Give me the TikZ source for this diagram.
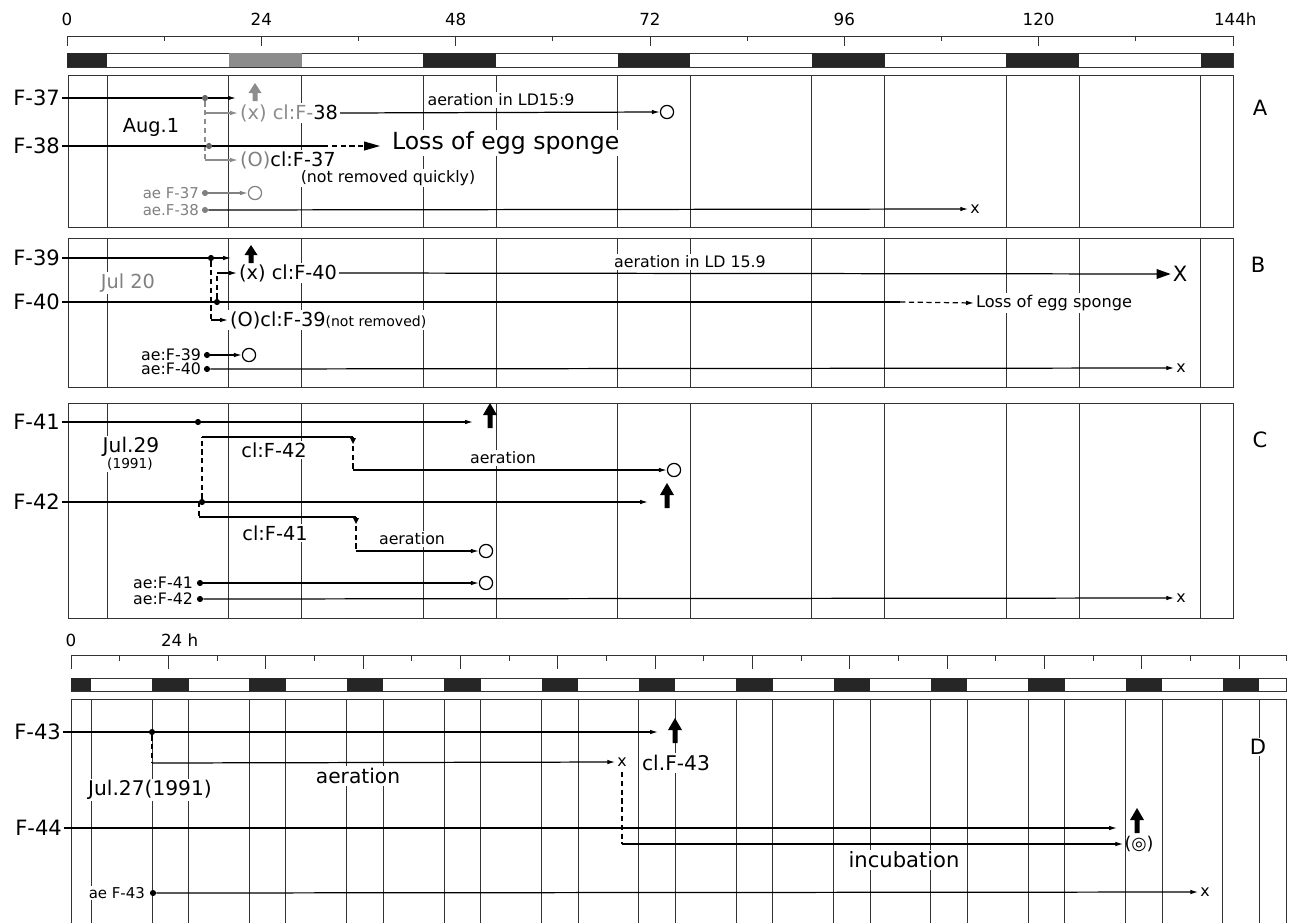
\documentclass[tikz,border=0pt]{standalone}
\usepackage{fontspec}
\setmainfont{DejaVu Sans}
\newfontfamily\symf{DejaVu Sans}
\usetikzlibrary{arrows.meta}
\newcommand\myfs[1]{\fontsize{#1pt}{#1pt}\selectfont}
\tikzset{
  bigupL/.pic={\fill (-2.5,0) -- (-2.5,-13) -- (-7,-13) -- (0,-25) -- (7,-13) -- (2.5,-13) -- (2.5,0) -- cycle;},
  bigupS/.pic={\fill (-2.5,0) -- (-2.5,-8) -- (-6.5,-8) -- (0,-18) -- (6.5,-8) -- (2.5,-8) -- (2.5,0) -- cycle;},
  grid/.style={line width=0.55pt,black!80},
  ln/.style={line width=0.7pt},
  sarr/.style={ln,-{Latex[length=4.5pt,width=2.6pt]}},
  dsh/.style={line width=0.7pt,dash pattern=on 3pt off 2pt},
  lbl/.style={anchor=east,inner sep=1pt,font=\myfs{12}},
  tx/.style={inner sep=1pt,fill=white},
  ocirc/.style={circle,draw,line width=0.7pt,minimum size=7.5pt,inner sep=0pt,fill=white},
  dotp/.style={circle,fill,inner sep=0pt,minimum size=3.5pt},
  axl/.style={font=\myfs{9.5},inner sep=1pt},
  pan/.style={font=\myfs{12},inner sep=1pt,fill=white}
}
\begin{document}
\begin{tikzpicture}[x=0.02cm,y=-0.02cm]
\useasboundingbox (0,0) rectangle (1293,923);
% ===== top axis (A-C) =====
\coordinate (ax0) at (67,36); \coordinate (ax1) at (1233,36);
\draw[grid] (ax0) -- (ax1);
\foreach \h in {0,24,...,144} \draw[grid] ({67+8.097*\h},36) -- ++(0,10);
\foreach \h in {12,36,...,132} \draw[grid] ({67+8.097*\h},36) -- ++(0,5);
\foreach \h in {0,24,48,72,96,120} \node[axl] at ({67+8.097*\h},19) {\h};
\node[axl,anchor=west] at (1212,19) {144h};
\draw[grid] (67,53) rectangle (1233,67);
\foreach \a/\b in {0/5,44/53,68/77,92/101,116/125,140/144}
  \fill[black!85] ({67+8.097*\a},53) rectangle ({67+8.097*\b},67);
\fill[black!45] ({67+8.097*20},53) rectangle ({67+8.097*29},67);
% panel boxes and grid
\draw[grid] (68,75) rectangle (1233,227);
\draw[grid] (68,238) rectangle (1233,387);
\draw[grid] (68,403) rectangle (1233,618);
\foreach \h in {5,20,29,44,53,68,77,92,101,116,125,140} {
  \draw[grid] ({67+8.097*\h},75) -- (67+8.097*\h,227);
  \draw[grid] ({67+8.097*\h},238) -- ({67+8.097*\h},387);
  \draw[grid] ({67+8.097*\h},403) -- ({67+8.097*\h},618);
}
% ===== axis D =====
\draw[grid] (71,655) -- (1286,655);
\foreach \h in {0,24,...,288} \draw[grid] ({71+4.056*\h},655) -- ++(0,14);
\foreach \h in {12,36,...,276} \draw[grid] ({71+4.056*\h},655) -- ++(0,6);
\draw[grid] (1286,655) -- ++(0,6);
\node[axl] at (71,640) {0};
\node[axl,anchor=west] at (159,640) {24 h};
\draw[grid] (71,678) rectangle (1286,691);
\fill[black!85] (71,678) rectangle ({71+4.056*5},691);
\foreach \k in {0,...,11}
  \fill[black!85] ({71+4.056*(20+24*\k)},678) rectangle ({71+4.056*(29+24*\k)},691);
\draw[grid] (71,923) -- (71,699) -- (1286,699) -- (1286,923);
\draw[grid] ({71+4.056*5},699) -- ({71+4.056*5},923);
\foreach \k in {0,...,11} {
  \draw[grid] ({71+4.056*(20+24*\k)},699) -- ({71+4.056*(20+24*\k)},923);
  \draw[grid] ({71+4.056*(29+24*\k)},699) -- ({71+4.056*(29+24*\k)},923);
}
% ================= PANEL A =================
\node[lbl] (F37) at (62,98) {F-37};
\node[lbl] (F38) at (62,146) {F-38};
\node[pan] (pA) at (1260,108) {A};
\node[tx,font=\myfs{11}] (aug) at (151,127) {Aug.1};
\node[tx,font=\myfs{9}] (aerA) at (501,100) {aeration in LD15:9};
\node[tx,font=\myfs{11},anchor=west] (x38) at (238,113) {{\color{black!45}(x) cl:F-}38};
\node[tx,font=\myfs{13.4},anchor=west] (lossA) at (390,143) {Loss of egg sponge};
\node[tx,font=\myfs{11},anchor=west] (o37) at (238,160) {{\color{black!50}(O)}cl:F-37};
\node[tx,font=\myfs{9}] (nrq) at (388,178) {(not removed quickly)};
\node[ocirc] (oA1) at (667,112) {};
\node[tx,font=\myfs{8.5},anchor=east,text=black!50] (ae37) at (201,193) {ae F-37};
\node[ocirc,draw=black!50] (oA2) at (255,193) {};
\node[tx,font=\myfs{8.5},anchor=east,text=black!50] (ae38) at (201,210) {ae.F-38};
\node[tx,font=\myfs{9}] (xA) at (975,209) {x};
\coordinate (e37) at (236,98);
\draw[sarr] (F37.east) -- (e37);
\node[dotp,black!60] (d37) at (205,98) {};
\pic[black!45] at (255,101) {bigupS};
\coordinate (bA1) at (205,113); \coordinate (bA2) at (205,160);
\draw[dsh,black!45] (d37) -- (bA2);
\draw[sarr,black!45] (bA1) -- (x38.west);
\draw[sarr,black!45] (bA2) -- (o37.west);
\draw[sarr] (x38.east) -- (oA1.west);
\coordinate (sA) at (323,146); \coordinate (lA) at (380,146);
\draw[ln] (F38.east) -- (sA);
\draw[dsh,-{Triangle[length=9pt,width=5pt]}] (sA) -- (lA);
\node[dotp,black!60] (d38) at (209,146) {};
\node[dotp,black!50] (dae37) at (205,193) {};
\node[dotp,black!50] (dae38) at (205,210) {};
\draw[sarr,black!50] (dae37) -- (oA2.west);
\draw[sarr] (dae38) -- (xA.west);
% ================= PANEL B =================
\node[lbl] (F39) at (62,258) {F-39};
\node[lbl] (F40) at (62,302) {F-40};
\node[pan] (pB) at (1258,265) {B};
\node[tx,font=\myfs{11},text=black!50] (jul20) at (128,283) {Jul 20};
\node[tx,font=\myfs{9}] (aerB) at (690,262) {aeration in LD 15.9};
\node[tx,font=\myfs{11},anchor=west] (x40) at (237,273) {(x) cl:F-40};
\node[inner sep=1pt,font=\myfs{12}] (XB) at (1180,274) {X};
\node[tx,font=\myfs{9.2},anchor=west] (lossB) at (974,303) {Loss of egg sponge};
\node[tx,font=\myfs{11},anchor=west] (o39) at (228,320) {(O)cl:F-39{\myfs{8}(not removed)}};
\node[tx,font=\myfs{9},anchor=east] (ae39) at (203,355) {ae:F-39};
\node[ocirc] (oB) at (249,355) {};
\node[tx,font=\myfs{9},anchor=east] (ae40) at (203,369) {ae:F-40};
\node[inner sep=1pt,font=\myfs{9}] (xB) at (1181,368) {x};
\node[dotp] (d39) at (211,258) {};
\node[dotp] (d40) at (217,302) {};
\coordinate (e39) at (231,258);
\draw[sarr] (F39.east) -- (e39);
\pic at (251,263) {bigupS};
\coordinate (bB1) at (217,273); \coordinate (bB2) at (211,320);
\draw[dsh] (d40) -- (bB1);
\draw[sarr] (bB1) -- (x40.west);
\draw[dsh] (d39) -- (bB2);
\draw[sarr] (bB2) -- (o39.west);
\draw[ln,-{Triangle[length=8pt,width=5.5pt]}] (x40.east) -- (XB.west);
\coordinate (sB) at (900,302);
\draw[ln] (F40.east) -- (sB);
\draw[dsh,-{Latex[length=4.5pt,width=2.6pt]}] (sB) -- (lossB.west);
\node[dotp] (dae39) at (207,355) {};
\node[dotp] (dae40) at (207,369) {};
\draw[sarr] (dae39) -- (oB.west);
\draw[sarr] (dae40) -- (xB.west);
% ================= PANEL C =================
\node[lbl] (F41) at (62,422) {F-41};
\node[lbl] (F42) at (62,502) {F-42};
\node[pan] (pC) at (1260,440) {C};
\node[tx,font=\myfs{11.5}] (jul29) at (131,447) {Jul.29};
\node[tx,font=\myfs{7.8}] (y91) at (130,464) {(1991)};
\node[tx,font=\myfs{11}] (cl42) at (274,450) {cl:F-42};
\node[tx,font=\myfs{9}] (aerC1) at (503,458) {aeration};
\node[ocirc] (oC1) at (674,470) {};
\node[tx,font=\myfs{11}] (cl41) at (275,533) {cl:F-41};
\node[tx,font=\myfs{9}] (aerC2) at (412,539) {aeration};
\node[ocirc] (oC2) at (486,551) {};
\node[tx,font=\myfs{9},anchor=east] (ae41) at (195,583) {ae:F-41};
\node[ocirc] (oC3) at (486,583) {};
\node[tx,font=\myfs{9},anchor=east] (ae42) at (195,599) {ae:F-42};
\node[inner sep=1pt,font=\myfs{9}] (xC) at (1181,598) {x};
\node[dotp] (d41) at (198,422) {};
\node[dotp] (d42) at (202,502) {};
\coordinate (e41) at (473,422);
\draw[sarr] (F41.east) -- (e41);
\pic at (490,428) {bigupL};
\coordinate (e42) at (648,502);
\draw[sarr] (F42.east) -- (e42);
\pic at (667,508) {bigupL};
% upper bracket
\coordinate (uC1) at (202,437); \coordinate (uC2) at (353,437); \coordinate (uC3) at (353,470);
\draw[dsh] (d42) -- (uC1);
\draw[ln] (uC1) -- (uC2);
\fill (350,438) -- (356,438) -- (353,444) -- cycle;
\draw[dsh] (uC2) -- (uC3);
\draw[sarr] (uC3) -- (oC1.west);
% lower bracket
\coordinate (lC1) at (199,517); \coordinate (lC2) at (356,517); \coordinate (lC3) at (356,551);
\draw[dsh] (199,502) -- (lC1);
\draw[ln] (lC1) -- (lC2);
\fill (353,518) -- (359,518) -- (356,524) -- cycle;
\draw[dsh] (lC2) -- (lC3);
\draw[sarr] (lC3) -- (oC2.west);
\node[dotp] (dae41) at (200,583) {};
\node[dotp] (dae42) at (200,599) {};
\draw[sarr] (dae41) -- (oC3.west);
\draw[sarr] (dae42) -- (xC.west);
% ================= PANEL D =================
\node[lbl] (F43) at (63,732) {F-43};
\node[lbl] (F44) at (64,828) {F-44};
\node[pan] (pD) at (1258,747) {D};
\node[tx,font=\myfs{11.5}] (jul27) at (150,790) {Jul.27(1991)};
\node[tx,font=\myfs{11.5}] (aerD) at (358,776) {aeration};
\node[inner sep=1pt,font=\myfs{9}] (xD1) at (622,762) {x};
\node[tx,font=\myfs{11.5},anchor=west] (cl43) at (640,763) {cl.F-43};
\node[inner sep=0.5pt,font=\myfs{10}] (oD) at (1139,844) {(\symf ◎)};
\node[tx,font=\myfs{12}] (incub) at (904,860) {incubation};
\node[tx,font=\myfs{8.5},anchor=east] (ae43) at (147,893) {ae F-43};
\node[inner sep=1pt,font=\myfs{9}] (xD2) at (1205,892) {x};
\node[dotp] (d43) at (152,732) {};
\coordinate (e43) at (658,732);
\draw[sarr] (F43.east) -- (e43);
\pic at (675,743) {bigupL};
\coordinate (bD1) at (152,763);
\draw[dsh] (d43) -- (bD1);
\draw[sarr] (bD1) -- (xD1.west);
\coordinate (e44) at (1117,828);
\draw[sarr] (F44.east) -- (e44);
\pic at (1137,833) {bigupL};
\coordinate (bD2) at (622,772); \coordinate (bD3) at (622,844);
\draw[dsh] (bD2) -- (bD3);
\draw[sarr] (bD3) -- (oD.west);
\node[dotp] (dae43) at (153,893) {};
\draw[sarr] (dae43) -- (xD2.west);
\end{tikzpicture}
\end{document}
